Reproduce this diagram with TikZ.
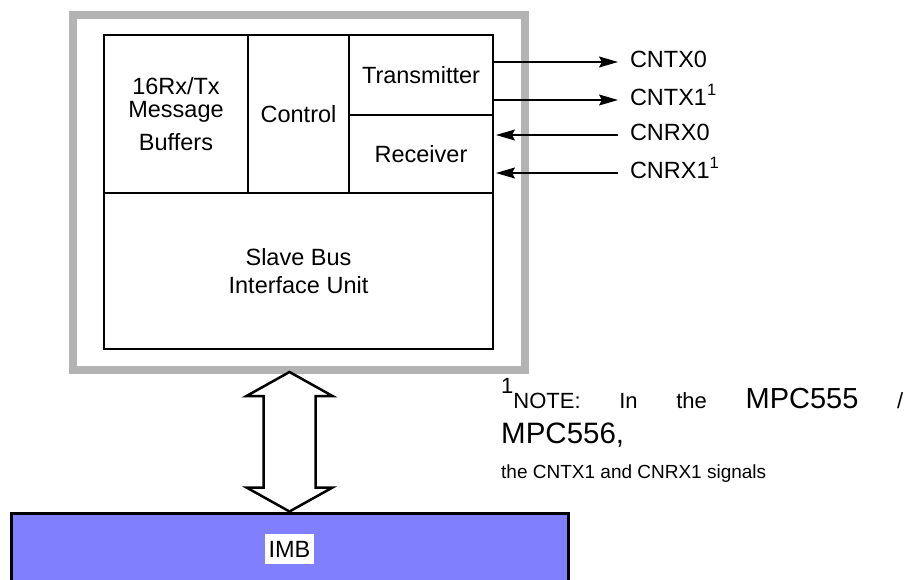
\documentclass[tikz,border=0pt]{standalone}
\usepackage{fontspec}
\setmainfont{Liberation Sans}
\usepackage{tikz}
\usetikzlibrary{arrows.meta,positioning,fit,calc}
\definecolor{mpcgray}{RGB}{179,179,179}
\definecolor{mpcblue}{RGB}{128,128,255}

\begin{document}
\begin{tikzpicture}[
  x=1pt, y=-1pt,
  font=\fontsize{23.5}{28}\selectfont,
  box/.style={draw, line width=2.5pt, outer sep=0pt, inner sep=0pt, align=center},
  frame/.style={draw=mpcgray, line width=8pt},
  sig/.style={anchor=west, inner sep=0pt, outer xsep=12pt, text height=14pt, text depth=4pt},
  arr/.style={-{Stealth[length=19pt,width=11pt,inset=3pt]}, line width=1.5pt},
  bus/.style={draw, fill=white, line width=2.5pt, line join=miter},
  note/.style={inner sep=0pt, align=left, font=\fontsize{22}{35}\selectfont}
]
\useasboundingbox (0,0) rectangle (905,579);

% module blocks
\node[box, minimum width=144pt, minimum height=158pt] (buffers) at (176,114)
  {16Rx/Tx\\[-5pt] Message\\[5pt] Buffers};
\node[box, minimum width=101pt, minimum height=158pt, right=0pt of buffers] (control)
  {Control};
\node[box, minimum width=144pt, minimum height=80pt, anchor=north west] (trans)
  at (control.north east) {Transmitter};
\node[box, minimum width=144pt, minimum height=78pt, below=0pt of trans] (recv)
  {Receiver};
\node[box, minimum width=389pt, minimum height=156pt, anchor=north west] (sbiu)
  at (buffers.south west) {Slave Bus\\Interface Unit};

\node[frame, fit=(buffers)(trans)(sbiu), inner xsep=31.5pt, inner ysep=20.5pt] (module) {};

% pins
\node[sig] (cntx0) at (618,62) {CNTX0};
\node[sig] (cntx1) at (618,100) {CNTX1\textsuperscript{1}};
\node[sig] (cnrx0) at (618,135) {CNRX0};
\node[sig] (cnrx1) at (618,173) {CNRX1\textsuperscript{1}};

\draw[arr] (trans.east |- cntx0.west) -- (cntx0.west);
\draw[arr] (trans.east |- cntx1.west) -- (cntx1.west);
\draw[arr, shorten >=3pt] (cnrx0.west) -- (recv.east |- cnrx0.west);
\draw[arr, shorten >=3pt] (cnrx1.west) -- (recv.east |- cnrx1.west);

% IMB
\node[draw, line width=3pt, fill=mpcblue, minimum width=557pt, minimum height=72pt] (imb)
  at (289.5,549) {};
\node[fill=white, inner xsep=4pt, inner ysep=7pt, text height=16pt, text depth=0pt] (imblabel)
  at (imb) {IMB};

\coordinate (bustop) at ([yshift=1.5pt]imb.north |- module.south);
\coordinate (busbot) at (imb.north);
\draw[bus] (bustop) -- ++(43,24) -- ++(-17,0) -- ([shift={(26,-24)}]busbot) -- ++(17,0)
  -- (busbot) -- ++(-43,-24) -- ++(17,0) -- ([shift={(-26,24)}]bustop) -- ++(-17,0) -- cycle;

\node[note, anchor=north west] (note) at (501,378)
  {\makebox[402pt][l]{\raisebox{15pt}{1}NOTE:\hfill In\hfill the\hfill
     {\fontsize{29}{35}\selectfont MPC555}\hfill /}\\
   {\fontsize{29.5}{35}\selectfont MPC556,}\\
   {\fontsize{19}{35}\selectfont the CNTX1 and CNRX1 signals}};

\end{tikzpicture}
\end{document}
